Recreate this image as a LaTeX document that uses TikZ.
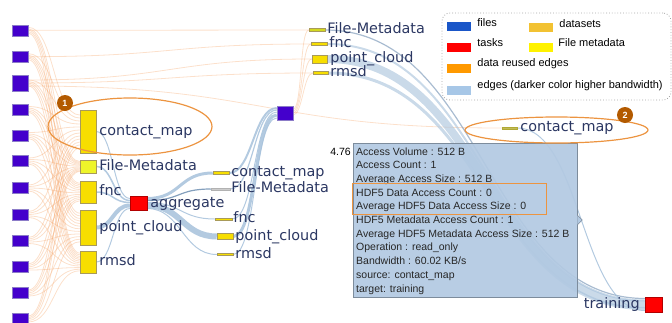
\documentclass[tikz,border=0pt]{standalone}
\usepackage{fontspec}
\setmainfont{DejaVu Sans}
\newfontfamily\tipfont{Liberation Sans}
\usepackage{xcolor}
\usepackage{tikz}
\usetikzlibrary{shapes.geometric, positioning, backgrounds}

\definecolor{filefill}{HTML}{4400CC}
\definecolor{fileedge}{HTML}{8C7CC8}
\definecolor{dsetfill}{HTML}{F7DE00}
\definecolor{dsetedge}{HTML}{A89A5A}
\definecolor{fmetafill}{HTML}{EEF52A}
\definecolor{lblcol}{HTML}{2B3762}
\definecolor{flowcol}{HTML}{A6C1DB}
\definecolor{flowdark}{HTML}{6F8FB2}
\definecolor{reusecol}{HTML}{F5A66B}
\definecolor{ringcol}{HTML}{EC9440}
\definecolor{badgecol}{HTML}{B35A00}
\definecolor{tipfill}{HTML}{B2C9E2}
\definecolor{tipedge}{HTML}{7D8C9C}
\definecolor{legfile}{HTML}{1A56C8}
\definecolor{legreuse}{HTML}{FF9900}
\definecolor{legflow}{HTML}{A7C7E7}
\definecolor{legdset}{HTML}{F2C232}

\begin{document}
\begin{tikzpicture}[
  x=1pt, y=-1pt,
  file/.style={rectangle, fill=filefill, draw=fileedge, line width=0.5pt, minimum width=16pt, minimum height=11pt, inner sep=0pt},
  dset/.style={rectangle, fill=dsetfill, draw=dsetedge, line width=0.5pt, minimum width=16pt, inner sep=0pt},
  fmeta/.style={dset, fill=fmetafill},
  bar/.style={dset, minimum height=3pt},
  task/.style={rectangle, fill=red, draw=red!70!black, line width=0.3pt, minimum width=17pt, minimum height=14pt, inner sep=0pt},
  lbl/.style={font=\fontsize{14.4}{16}\selectfont, text=lblcol, inner sep=0pt, text height=10.5pt, text depth=3pt},
  reuse/.style={draw=reusecol, line width=0.8pt, opacity=0.35},
  flow/.style={draw=flowcol, opacity=0.85},
  ring/.style={ellipse, draw=ringcol, line width=1.2pt, inner sep=0pt},
  badge/.style={circle, fill=badgecol, text=white, font=\tipfont\bfseries\fontsize{9}{9}\selectfont, minimum size=16pt, inner sep=0pt},
  tipline/.style={anchor=west, font=\tipfont\fontsize{10.5}{12}\selectfont, text=black!85, inner sep=0pt, text height=8pt, text depth=2pt},
  hilite/.style={rectangle, draw=ringcol, line width=1pt, inner sep=0pt},
  legtxt/.style={font=\tipfont\fontsize{11}{12}\selectfont, inner sep=0pt, text height=8pt, text depth=2pt},
  swatch/.style={rectangle, minimum width=24pt, minimum height=9pt, inner sep=0pt},
]
  \useasboundingbox (0,0) rectangle (672,322);

  % ── Files (left column) ──
  \foreach \k/\y in {1/30.3, 2/56.7, 4/109.5, 5/135.5, 6/161, 7/188, 8/214.5, 9/240.5, 10/267, 11/293, 12/319}
    \node[file] (f\k) at (20,\y) {};
  \node[file, minimum height=16pt] (f3) at (20,83) {};

  % ── Datasets read from the files ──
  \node[dset, minimum height=43pt] (cm) at (88,131.5) {};
  \node[fmeta, minimum height=13pt] (fm) at (88,166.5) {};
  \node[dset, minimum height=22pt] (fnc) at (88,192) {};
  \node[dset, minimum height=35pt] (pc) at (88,227.5) {};
  \node[dset, minimum height=22pt] (rmsd) at (88,262) {};
  \node[lbl, right=3pt of cm] (cm-l) {contact\_map};
  \node[lbl, right=3pt of fm] (fm-l) {File-Metadata};
  \node[lbl, right=3pt of fnc] (fnc-l) {fnc};
  \node[lbl, right=3pt of pc] (pc-l) {point\_cloud};
  \node[lbl, right=3pt of rmsd] (rmsd-l) {rmsd};

  % ── Task: aggregate ──
  \node[task] (agg) at (138.5,203.5) {};
  \node[lbl, right=3pt of agg] (agg-l) {aggregate};

  % ── Datasets written by aggregate ──
  \node[bar] (cmb) at (221,173) {};
  \node[bar, fill=gray!40, draw=gray!60, minimum height=2pt, minimum width=19pt] (fmb) at (220.5,189) {};
  \node[bar, minimum height=2pt, minimum width=17pt] (fncb) at (223.5,219) {};
  \node[bar, minimum height=6pt] (pcb) at (225,236.5) {};
  \node[bar, minimum height=2pt] (rmsdb) at (225,254.5) {};
  \node[lbl, right=2pt of cmb] (cmb-l) {contact\_map};
  \node[lbl, right=1pt of fmb] (fmb-l) {File-Metadata};
  \node[lbl, right=1pt of fncb] (fncb-l) {fnc};
  \node[lbl, right=2pt of pcb] (pcb-l) {point\_cloud};
  \node[lbl, right=2pt of rmsdb] (rmsdb-l) {rmsd};

  % ── Output file ──
  \node[file, minimum height=14pt] (pm) at (285,113) {};

  % ── Datasets of the output file ──
  \node[bar, fill=fmetafill!75!olive] (fmt) at (317,30) {};
  \node[bar] (fnct) at (319,44) {};
  \node[bar, minimum height=8pt, minimum width=15pt] (pct) at (319.5,59) {};
  \node[bar, minimum width=15pt] (rmsdt) at (320.5,73) {};
  \node[lbl, right=2pt of fmt] (fmt-l) {File-Metadata};
  \node[lbl, right=2pt of fnct] (fnct-l) {fnc};
  \node[lbl, right=3pt of pct] (pct-l) {point\_cloud};
  \node[lbl, right=2pt of rmsdt] (rmsdt-l) {rmsd};

  \node[bar, fill=olive!55, draw=olive!70, minimum height=2pt, minimum width=15pt] (cm2) at (509.5,128) {};
  \node[lbl, right=3pt of cm2] (cm2-l) {contact\_map};

  % ── Task: training ──
  \node[task, minimum height=15pt] (train) at (653.5,304.5) {};
  \node[lbl, left=5pt of train] (train-l) {training};

  % ── Edges ──
  \begin{scope}[on background layer]
    % files -> datasets (reused data)
    \foreach \i in {1,...,12}
      \foreach \d/\k/\s in {cm/1/3, fm/2/0.9, fnc/3/1.6, pc/4/2.6, rmsd/5/1.6}
        \draw[reuse] ([yshift={(3-\k)*1.5pt}]f\i.east) .. controls +(26,0) and +(-26,0) .. ([yshift={((6.5-\i)*\s)*1pt}]\d.west);
    \draw[reuse] (f1.east) .. controls +(141,0) and +(-141,0) .. (fmt.west);
    \draw[reuse] (f2.east) .. controls +(141,0) and +(-141,0) .. (fnct.west);
    \draw[reuse] ([yshift=3pt]f3.east) .. controls +(141,0) and +(-141,0) .. (pct.west);
    \draw[reuse] (f3.east) .. controls +(141,0) and +(-141,0) .. (rmsdt.west);
    \draw[reuse] ([yshift=-3pt]f3.east) .. controls +(237,0) and +(-237,0) .. (cm2.west);
    \foreach \d/\o in {fmt/4, fnct/2, pct/0, rmsdt/-2}
      \draw[reuse] ([yshift=\o pt]pm.east) .. controls +(9,0) and +(-9,0) .. (\d.west);

    % datasets -> aggregate
    \foreach \d/\o/\w in {cm/5/1, fm/3/1.5, fnc/1/1.5, pc/-2/4, rmsd/-5/1}
      \draw[flow, line width=\w pt] (\d.east) .. controls +(17,0) and +(-17,0) .. ([yshift=\o pt]agg.west);
    % aggregate -> datasets
    \foreach \d/\o/\w/\c in {cmb/5/3/flowcol, fmb/3/1.2/flowdark, fncb/1/1/flowcol, pcb/-2/6/flowcol, rmsdb/-5/1/flowcol}
      \draw[flow, draw=\c, line width=\w pt] ([yshift=\o pt]agg.east) .. controls +(34,0) and +(-34,0) .. (\d.west);
    % datasets -> output file
    \foreach \d/\o/\w in {cmb/5/2, fmb/3/1.2, fncb/1/1, pcb/-2/3, rmsdb/-5/1}
      \draw[flow, line width=\w pt] (\d.east) .. controls +(23,0) and +(-23,0) .. ([yshift=\o pt]pm.west);
    % datasets -> training
    \foreach \d/\o/\w/\c in {fmt/6/1.2/flowdark, fnct/4/2/flowcol, pct/0/8/flowcol, rmsdt/-4/3/flowcol}
      \draw[flow, draw=\c, line width=\w pt, opacity=0.6] (\d.east) .. controls +(159,0) and +(-159,0) .. ([yshift=\o pt]train.west);
    \draw[flow, line width=1pt] (cm2.east) .. controls +(64,0) and +(-64,0) .. ([yshift=-6pt]train.west);
  \end{scope}

  % ── Highlights ──
  \node[ring, minimum width=164pt, minimum height=57pt] (ring1) at (130,126.5) {};
  \node[badge] (b1) at (65,103) {1};

  % ── Tooltip ──
  \node[rectangle, fill=tipfill, fill opacity=0.92, draw=tipedge, line width=0.6pt, minimum width=224pt, minimum height=154pt, inner sep=0pt] (tip) at (465,220) {};
  \filldraw[fill=tipfill, draw=tipedge, line width=0.6pt] ([yshift=5pt]tip.east) -- ++(5,5) -- ++(-5,5);
  \foreach \t [count=\k] in {Access Volume : 512 B, Access Count : 1, Average Access Size : 512 B,
      HDF5 Data Access Count : 0, Average HDF5 Data Access Size : 0, HDF5 Metadata Access Count : 1,
      Average HDF5 Metadata Access Size : 512 B, Operation : read\_only, Bandwidth : 60.02 KB/s,
      source: contact\_map, target: training}
    \node[tipline] (l\k) at (356,138.3+13.7*\k) {\t};
  \node[tipline, anchor=east, text=black] (val) at (351,152) {4.76};
  \node[hilite, minimum width=194pt, minimum height=30.5pt] (hl) at (449,198.8) {};

  \node[ring, minimum width=183pt, minimum height=26pt] (ring2) at (556.5,130) {};
  \node[badge] (b2) at (625,115) {2};

  % ── Legend ──
  \node[rectangle, rounded corners=8pt, draw=gray!70, dotted, line width=0.8pt, fill=white, minimum width=229pt, minimum height=87pt] (leg) at (556.5,56.5) {};
  \node[swatch, fill=legfile] (sw-file) at (459,26.5) {};
  \node[swatch, fill=red] (sw-task) at (459,47.5) {};
  \node[swatch, fill=legreuse] (sw-reuse) at (459,68.5) {};
  \node[swatch, fill=legflow] (sw-flow) at (459,90) {};
  \node[swatch, fill=legdset] (sw-dset) at (541,27) {};
  \node[swatch, fill=yellow] (sw-meta) at (541,47.5) {};
  \node[legtxt, right=6pt of sw-file, yshift=3pt] (lt-file) {files};
  \node[legtxt, right=6pt of sw-task, yshift=4pt] (lt-task) {tasks};
  \node[legtxt, right=6pt of sw-reuse, yshift=5pt] (lt-reuse) {data reused edges};
  \node[legtxt, right=6pt of sw-flow, yshift=5pt] (lt-flow) {edges (darker color higher bandwidth)};
  \node[legtxt, right=6pt of sw-dset, yshift=3pt] (lt-dset) {datasets};
  \node[legtxt, right=5pt of sw-meta, yshift=4pt] (lt-meta) {File metadata};

\end{tikzpicture}
\end{document}
